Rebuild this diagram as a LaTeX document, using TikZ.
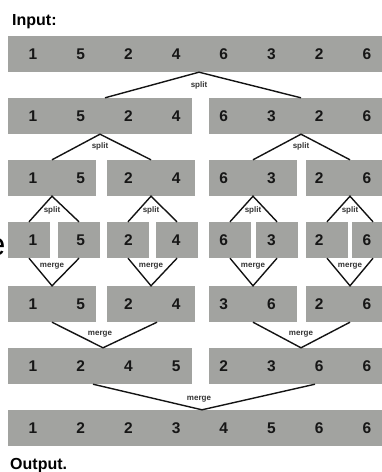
\documentclass[tikz,border=0pt]{standalone}
\usepackage{fontspec}
\setmainfont{Liberation Sans}
\usetikzlibrary{positioning,calc}
\definecolor{cellgrey}{HTML}{A2A3A0}
\definecolor{digitc}{HTML}{161616}
\definecolor{wirec}{HTML}{141414}

\begin{document}
\begin{tikzpicture}[x=1pt,y=-1pt,
  cell/.style={fill=cellgrey,minimum height=36pt,inner sep=0pt},
  full/.style={cell,minimum width=382pt},
  half/.style={cell,minimum width=184pt},
  quart/.style={cell,minimum width=88pt},
  eighth/.style={cell,minimum width=42pt},
  num/.style={font=\fontsize{15.5}{15.5}\selectfont\bfseries,text=digitc},
  tag/.style={font=\fontsize{8}{8}\selectfont\bfseries,text=black!80,inner sep=1pt},
  wire/.style={draw=wirec,line width=1.4pt},
  title/.style={font=\fontsize{16}{16}\selectfont\bfseries,anchor=base west,inner sep=0pt},
]
\useasboundingbox (0,0) rectangle (381,472);

\node[title] (intitle) at (12,25) {Input:};
\node[title] (outtitle) at (10,469) {Output.};
\node[font=\fontsize{32}{32}\selectfont,anchor=base east,inner sep=0pt] (cut) at (5.5,255) {e};

% rows of cells
\node[full] (r1) at (199,54) {};
\node[half] (h1) at (100,116) {};
\node[half] (h2) at (301,116) {};
\node[quart] (q1) at (52,178) {};
\node[quart] (q2) at (151,178) {};
\node[quart] (q3) at (253,178) {};
\node[quart] (q4) at (350,178) {};
\node[eighth] (e1) at (29,240) {};
\node[eighth] (e2) at (79,240) {};
\node[eighth] (e3) at (128,240) {};
\node[eighth] (e4) at (177,240) {};
\node[eighth] (e5) at (230,240) {};
\node[eighth] (e6) at (277,240) {};
\node[eighth] (e7) at (327,240) {};
\node[eighth] (e8) at (373,240) {};
\node[quart] (p1) at (52,304) {};
\node[quart] (p2) at (151,304) {};
\node[quart] (p3) at (253,304) {};
\node[quart] (p4) at (350,304) {};
\node[half] (g1) at (100,366) {};
\node[half] (g2) at (301,366) {};
\node[full] (r7) at (199,428) {};

% the numbers
\foreach \r/\y/\vals in {1/54/{1,5,2,4,6,3,2,6}, 2/116/{1,5,2,4,6,3,2,6},
    3/178/{1,5,2,4,6,3,2,6}, 4/240/{1,5,2,4,6,3,2,6}, 5/304/{1,5,2,4,3,6,2,6},
    6/366/{1,2,4,5,2,3,6,6}, 7/428/{1,2,2,3,4,5,6,6}}
  \foreach \v [count=\i] in \vals
    \node[num] (d\r-\i) at ({33+47.7*(\i-1)},\y) {\v};

% split
\draw[wire] ([xshift=5pt]h1.north) -- (r1.south) -- (h2.north);
\node[tag,below=8pt of r1.south] (t1) {split};
\draw[wire] (q1.north) -- (h1.south) -- (q2.north);
\node[tag,below=7pt of h1.south] (t2) {split};
\draw[wire] (q3.north) -- (h2.south) -- (q4.north);
\node[tag,below=7pt of h2.south] (t3) {split};
\foreach \a/\b/\c in {q1/e1/e2,q2/e3/e4,q3/e5/e6,q4/e7/e8} {
  \draw[wire] (\b.north) -- (\a.south) -- (\c.north);
  \node[tag,below=9pt of \a.south] (s-\a) {split};
}

% merge
\foreach \a/\b/\c in {p1/e1/e2,p2/e3/e4,p3/e5/e6,p4/e7/e8} {
  \draw[wire] (\b.south) -- (\a.north) -- (\c.south);
  \node[tag,above=15pt of \a.north] (m-\a) {merge};
}
\draw[wire] (p1.south) -- ([xshift=3pt]g1.north) -- ([xshift=6pt]p2.south);
\node[tag,above=9pt of g1.north] (m5) {merge};
\draw[wire] (p3.south) -- (g2.north) -- (p4.south);
\node[tag,above=9pt of g2.north] (m6) {merge};
\draw[wire] ([xshift=-7pt]g1.south) -- ([xshift=3pt]r7.north) -- ([xshift=14pt]g2.south);
\node[tag,above=6pt of r7.north] (m7) {merge};
\end{tikzpicture}
\end{document}
